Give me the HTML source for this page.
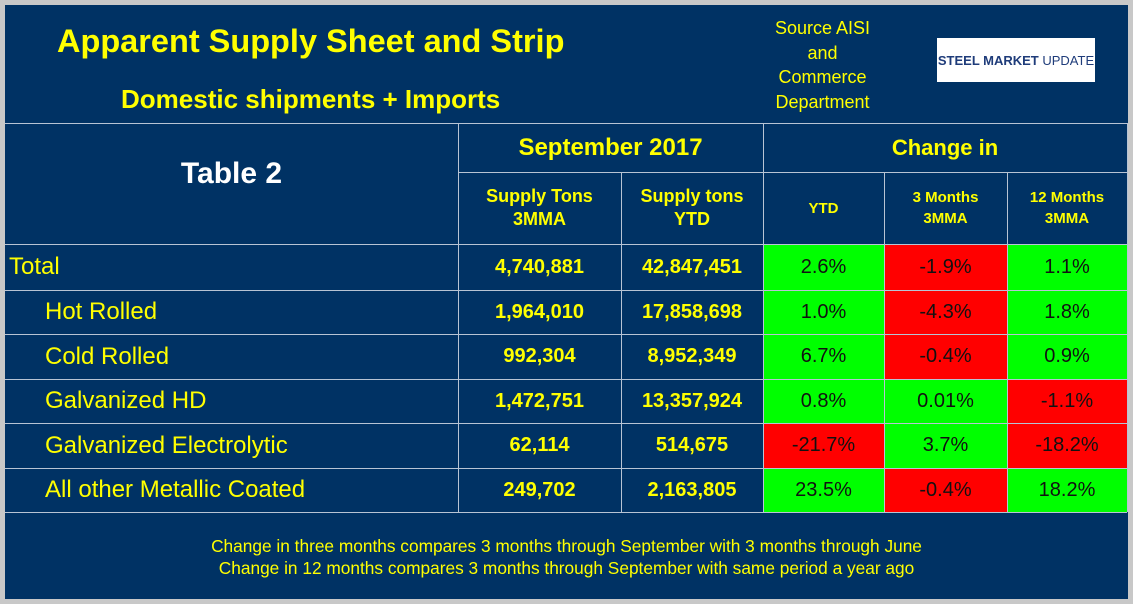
<!DOCTYPE html>
<html><head><meta charset="utf-8"><style>
body{margin:0;width:1133px;height:604px;background:#c8c8c8;overflow:hidden;font-family:"Liberation Sans",sans-serif}
#p{position:absolute;left:5px;top:5px;width:1123px;height:594px;background:#003264}
.a{position:absolute;display:flex;align-items:center;justify-content:center;text-align:center;color:#ffff00;box-sizing:border-box}
.h{position:absolute;height:1px;background:#b8c4d4}
.v{position:absolute;width:1px;background:#b8c4d4}
.g{background:#00ff00;color:#111}
.r{background:#ff0000;color:#111}
</style></head><body>
<div id="p"></div>
<div class="a" style="left:20px;top:20px;width:600px;height:42px;font-size:32.5px;font-weight:bold;justify-content:flex-start;padding-left:37px;white-space:nowrap">Apparent Supply Sheet and Strip</div>
<div class="a" style="left:20px;top:82px;width:600px;height:34px;font-size:26px;font-weight:bold;justify-content:flex-start;padding-left:101px;white-space:nowrap">Domestic shipments + Imports</div>
<div class="a" style="left:760px;top:15px;width:125px;height:100px;font-size:18px;line-height:24.5px">Source AISI<br>and<br>Commerce<br>Department</div>
<div class="a" style="left:937px;top:38px;width:158px;height:44px;background:#fff;font-size:13px;font-weight:bold;color:#1f3c7a">STEEL MARKET&nbsp;<span style="font-weight:normal">UPDATE</span></div>
<div id="t"></div>
<div class="a" style="left:5px;top:533px;width:1123px;height:48px;font-size:17.3px;line-height:22px;white-space:nowrap">Change in three months compares 3 months through September with 3 months through June<br>Change in 12 months compares 3 months through September with same period a year ago</div>
<script>
const rowNames=["Total","Hot Rolled","Cold Rolled","Galvanized HD","Galvanized Electrolytic","All other Metallic Coated"];
const tons3mma=["4,740,881","1,964,010","992,304","1,472,751","62,114","249,702"];
const tonsYtd=["42,847,451","17,858,698","8,952,349","13,357,924","514,675","2,163,805"];
const chgYtd=[2.6,1.0,6.7,0.8,-21.7,23.5];
const chg3m=[-1.9,-4.3,-0.4,0.01,3.7,-0.4];
const chg12m=[1.1,1.8,0.9,-1.1,-18.2,18.2];
const colX=[5,458,621,763,884,1007,1127];
const rowY=[244,290,334,379,423,468,512];
const t=document.getElementById('t');
function cell(x,y,w,h,txt,style,cls,name){const d=document.createElement('div');d.className='a '+(cls||'');


d.style.cssText=`left:${x}px;top:${y}px;width:${w}px;height:${h}px;`+style;d.innerHTML=txt;t.appendChild(d);}
function line(cls,x,y,l,name){const d=document.createElement('div');d.className=cls;


if(cls=='h'){d.style.left=x+'px';d.style.top=y+'px';d.style.width=l+'px';}else{d.style.left=x+'px';d.style.top=y+'px';d.style.height=l+'px';}t.appendChild(d);}
cell(5,123,453,121,"Table 2","color:#fff;font-size:30px;font-weight:bold;padding-bottom:20px",'','table-label');
cell(458,123,305,49,"September 2017","font-size:24px;font-weight:bold",'','period-header');
cell(763,123,364,49,"Change in","font-size:22px;font-weight:bold",'','change-header');
const hd=["Supply Tons<br>3MMA","Supply tons<br>YTD","YTD","3 Months<br>3MMA","12 Months<br>3MMA"];
hd.forEach((h,i)=>cell(colX[i+1],172,colX[i+2]-colX[i+1],72,h,`font-size:${i<2?18:15}px;font-weight:bold;line-height:${i<2?23:21}px`,'','col-header'));
const fmt=v=>(Math.abs(v)<0.1&&v!=0?v.toFixed(2):v.toFixed(1))+'%';
rowNames.forEach((n,r)=>{const y=rowY[r],h=rowY[r+1]-y;
cell(5,y,453,h,n,`font-size:24px;justify-content:flex-start;padding-left:${r?40:4}px`,'','row-label');
cell(458,y,163,h,tons3mma[r],"font-size:20px;font-weight:bold",'','tons-3mma');
cell(621,y,142,h,tonsYtd[r],"font-size:20px;font-weight:bold",'','tons-ytd');
[chgYtd,chg3m,chg12m].forEach((a,i)=>cell(colX[i+3],y,colX[i+4]-colX[i+3],h,fmt(a[r]),"font-size:20px",a[r]>=0?'g':'r','change-cell'));});
line('h',5,123,1122,'grid-line');line('h',458,172,669,'grid-line');
rowY.forEach(y=>line('h',5,y,1122,'grid-line'));
line('v',458,123,389,'grid-line');line('v',621,172,340,'grid-line');line('v',763,123,389,'grid-line');line('v',884,172,340,'grid-line');line('v',1007,172,340,'grid-line');line('v',1127,123,389,'grid-line');
</script>
</body></html>
